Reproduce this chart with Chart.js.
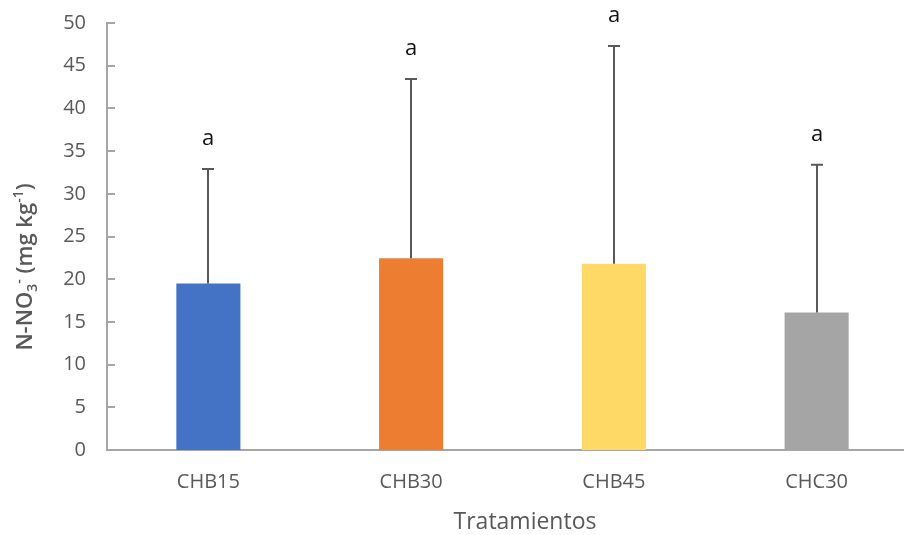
<!DOCTYPE html>
<html>
<head>
<meta charset="utf-8">
<script src="https://cdn.jsdelivr.net/npm/chart.js@4/dist/chart.umd.min.js"></script>
<style>
  html, body { margin: 0; padding: 0; overflow: hidden; background: #fff; }
  #wrap { position: relative; width: 940px; height: 535px; }
</style>
</head>
<body>
<div id="wrap"><canvas id="c" width="940" height="535"></canvas></div>
<script>
// Treatments and nitrate (N-NO3-) means with standard deviations
const categories = ['CHB15', 'CHB30', 'CHB45', 'CHC30'];
const means = [19.5, 22.45, 21.8, 16.1];
const errors = [13.4, 21.0, 25.5, 17.3];
const letters = ['a', 'a', 'a', 'a'];
const barColors = ['#4472C4', '#ED7D31', '#FFD966', '#A5A5A5'];
const yMin = 0, yMax = 50, yStep = 5;
const xTitle = 'Tratamientos';
const yTitleParts = [
  { t: 'N-NO', k: 'n' },
  { t: '3', k: 'sub' },
  { t: '-', k: 'sup' },
  { t: ' (mg kg', k: 'n' },
  { t: '-1', k: 'sup' },
  { t: ')', k: 'n' }
];

const FONT = '"Open Sans", "Noto Sans", sans-serif';
const AXIS_GREY = '#A6A6A6';
const TEXT_GREY = '#595959';

const overlay = {
  id: 'overlay',
  afterDatasetsDraw(chart) {
    const { ctx, scales: { y } } = chart;
    const meta = chart.getDatasetMeta(0);
    ctx.save();
    // error bars (upper half) with caps, plus significance letters
    meta.data.forEach((bar, i) => {
      const base = y.getPixelForValue(means[i]);
      const top = y.getPixelForValue(means[i] + errors[i]);
      const cx = Math.round(bar.x);
      ctx.strokeStyle = '#595959';
      ctx.lineWidth = 2;
      ctx.beginPath();
      ctx.moveTo(cx, base);
      ctx.lineTo(cx, top);
      ctx.moveTo(cx - 6, top);
      ctx.lineTo(cx + 6, top);
      ctx.stroke();
      ctx.fillStyle = '#111';
      ctx.font = '22px ' + FONT;
      ctx.textAlign = 'center';
      ctx.textBaseline = 'alphabetic';
      ctx.fillText(letters[i], cx, top - 24);
    });
    ctx.restore();
  },
  afterDraw(chart) {
    const { ctx, scales: { x, y } } = chart;
    ctx.save();
    // inward tick marks on the value axis
    ctx.strokeStyle = AXIS_GREY;
    ctx.lineWidth = 2;
    y.ticks.forEach(t => {
      const py = Math.round(y.getPixelForValue(t.value));
      ctx.beginPath();
      ctx.moveTo(x.left, py);
      ctx.lineTo(x.left + 8, py);
      ctx.stroke();
    });

    // category axis title
    ctx.fillStyle = TEXT_GREY;
    ctx.font = '23px ' + FONT;
    ctx.textAlign = 'center';
    ctx.textBaseline = 'alphabetic';
    ctx.fillText(xTitle, 525, 529);

    // value axis title with sub/superscripts, rotated
    const big = '600 22px ' + FONT, small = '600 14px ' + FONT;
    let total = 0;
    yTitleParts.forEach(p => {
      ctx.font = p.k === 'n' ? big : small;
      p.w = ctx.measureText(p.t).width;
      total += p.w;
    });
    ctx.translate(32, 267);
    ctx.rotate(-Math.PI / 2);
    ctx.textAlign = 'left';
    let cx = -total / 2;
    yTitleParts.forEach(p => {
      ctx.font = p.k === 'n' ? big : small;
      const dy = p.k === 'sub' ? 5 : (p.k === 'sup' ? -9 : 0);
      ctx.fillText(p.t, cx, dy);
      cx += p.w;
    });
    ctx.restore();
  }
};

new Chart(document.getElementById('c'), {
  type: 'bar',
  data: {
    labels: categories,
    datasets: [{
      data: means,
      backgroundColor: barColors,
      borderWidth: 0,
      categoryPercentage: 1,
      barPercentage: 0.316
    }]
  },
  options: {
    responsive: false,
    devicePixelRatio: 1,
    animation: false,
    layout: { padding: { top: 23, left: 0, right: 22, bottom: 0 } },
    plugins: { legend: { display: false }, tooltip: { enabled: false } },
    scales: {
      x: {
        z: 1,
        grid: { display: false, drawTicks: false, tickLength: 0 },
        border: { display: true, color: AXIS_GREY, width: 2 },
        ticks: { color: TEXT_GREY, font: { family: FONT, size: 20 }, padding: 20 },
        afterFit(s) { s.height = 85; s.paddingLeft = 0; s.paddingRight = 0; }
      },
      y: {
        min: yMin,
        max: yMax,
        grid: { display: false, drawTicks: false, tickLength: 0 },
        border: { display: true, color: AXIS_GREY, width: 2 },
        ticks: { stepSize: yStep, color: TEXT_GREY, font: { family: FONT, size: 20 }, padding: 21 },
        afterFit(s) { s.width = 107; s.paddingTop = 0; s.paddingBottom = 0; }
      }
    }
  },
  plugins: [overlay]
});
</script>
</body>
</html>
